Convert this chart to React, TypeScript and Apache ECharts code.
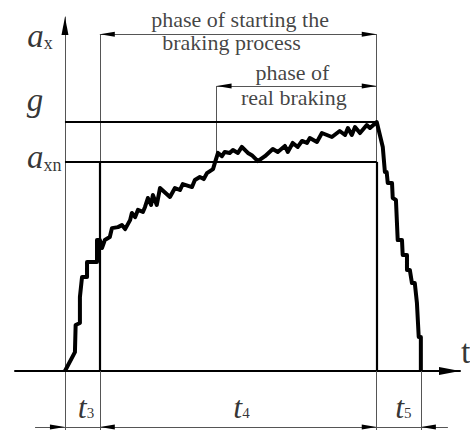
import React, { useEffect, useRef } from 'react';
import * as echarts from 'echarts';

// Phase boundaries on the time axis (arbitrary time units)
const T3_END = 0.98;
const T_REAL = 4.26;
const T4_END = 8.76;
const T5_END = 10.0;

// Acceleration levels (units of g)
const G_LEVEL = 1.0;
const AXN_LEVEL = 0.84;

// Measured deceleration curve a_x(t)
const curveT = [
  0, 0.28, 0.3, 0.42, 0.42, 0.48, 0.62, 0.62, 0.9, 0.9, 0.98, 1.04, 1.12, 1.26, 1.32, 1.49,
  1.6, 1.69, 1.83, 1.88, 1.97, 2.05, 2.19, 2.25, 2.33, 2.42, 2.47, 2.58, 2.67, 2.95, 3.09,
  3.23, 3.31, 3.57, 3.65, 3.79, 3.9, 3.99, 4.16, 4.21, 4.3, 4.41, 4.49, 4.63, 4.72, 4.86,
  4.97, 5.14, 5.25, 5.42, 5.62, 5.84, 5.98, 6.18, 6.26, 6.4, 6.54, 6.66, 6.8, 6.88, 7.08,
  7.22, 7.5, 7.72, 7.87, 7.95, 8.06, 8.15, 8.29, 8.48, 8.57, 8.76, 8.93, 8.99, 9.04, 9.07,
  9.19, 9.21, 9.3, 9.35, 9.47, 9.49, 9.61, 9.61, 9.69, 9.75, 9.83, 9.89, 9.94, 10.0, 10.0,
];
const curveA = [
  0, 0.076, 0.185, 0.193, 0.297, 0.378, 0.378, 0.438, 0.438, 0.526, 0.526, 0.494, 0.526, 0.538,
  0.574, 0.578, 0.586, 0.57, 0.606, 0.635, 0.618, 0.647, 0.639, 0.659, 0.695, 0.667, 0.707,
  0.667, 0.735, 0.699, 0.735, 0.727, 0.751, 0.739, 0.767, 0.779, 0.771, 0.795, 0.811, 0.835,
  0.876, 0.863, 0.88, 0.876, 0.888, 0.876, 0.9, 0.876, 0.867, 0.843, 0.863, 0.892, 0.88, 0.904,
  0.88, 0.916, 0.9, 0.924, 0.916, 0.936, 0.92, 0.956, 0.94, 0.964, 0.948, 0.976, 0.948, 0.98,
  0.956, 0.988, 0.976, 1.0, 0.9, 0.799, 0.799, 0.755, 0.755, 0.695, 0.687, 0.526, 0.526, 0.466,
  0.466, 0.406, 0.406, 0.353, 0.353, 0.273, 0.137, 0.137, 0,
];

// Dimension / annotation lines (data coordinates)
const DIM_TOP = 1.353;
const DIM_REAL = 1.145;
const REAL_FOOT = 0.867;
const DIM_BOTTOM = -0.225;
const DIM_LEFT = -0.84;
const DIM_RIGHT = 10.76;

// Axis ranges
const X_MIN = -1.404;
const X_MAX = 11.1;
const Y_MIN = -0.237;
const Y_MAX = 1.422;

// Arrow tips: [t, a, direction (0 right, 1 left, 2 up), axis arrow flag]
const arrowTips = [
  [X_MAX, 0, 0, 1],
  [0, Y_MAX, 2, 1],
  [T3_END, DIM_TOP, 1, 0],
  [T4_END, DIM_TOP, 0, 0],
  [T_REAL, DIM_REAL, 1, 0],
  [T4_END, DIM_REAL, 0, 0],
  [0, DIM_BOTTOM, 0, 0],
  [T3_END, DIM_BOTTOM, 1, 0],
  [T4_END, DIM_BOTTOM, 0, 0],
  [T5_END, DIM_BOTTOM, 1, 0],
];

// Texts
const annotationTexts = [
  'phase of starting the',
  'braking process',
  'phase of',
  'real braking',
  '{m|a}{s|x}',
  '{m|g}',
  '{m|a}{s|xn}',
  '{t|t}{n|3}',
  '{t|t}{n|4}',
  '{t|t}{n|5}',
  '{u|t}',
];
const annotationT = [4.92, 4.68, 6.39, 6.43, -0.7, -0.843, -0.584, 0.59, 4.96, 9.51, 11.26];
const annotationA = [1.412, 1.319, 1.198, 1.098, 1.346, 1.088, 0.859, -0.145, -0.145, -0.145, 0.078];

const SERIF = 'Liberation Serif';

export default function App() {
  const ref = useRef<HTMLDivElement>(null);

  useEffect(() => {
    if (!ref.current) return;
    const chart = echarts.init(ref.current, null, { renderer: 'svg' });

    const thick = [
      [[0, G_LEVEL], [T4_END, G_LEVEL]],
      [[0, AXN_LEVEL], [T4_END, AXN_LEVEL]],
      [[T3_END, AXN_LEVEL], [T3_END, 0]],
      [[T4_END, AXN_LEVEL], [T4_END, 0]],
    ];
    const thin = [
      [[T3_END, DIM_TOP], [T3_END, Y_MIN]],
      [[T4_END, DIM_TOP], [T4_END, Y_MIN]],
      [[T_REAL, DIM_REAL], [T_REAL, REAL_FOOT]],
      [[T5_END, 0], [T5_END, Y_MIN]],
      [[T3_END, DIM_TOP], [T4_END, DIM_TOP]],
      [[T_REAL, DIM_REAL], [T4_END, DIM_REAL]],
      [[DIM_LEFT, DIM_BOTTOM], [DIM_RIGHT, DIM_BOTTOM]],
    ];

    const option: any = {
      animation: false,
      grid: { left: 15, right: 10, top: 17, bottom: 0 },
      xAxis: {
        type: 'value',
        min: X_MIN,
        max: X_MAX,
        axisLine: { show: true, onZero: true, lineStyle: { color: '#000', width: 2 } },
        axisTick: { show: false },
        axisLabel: { show: false },
        splitLine: { show: false },
      },
      yAxis: {
        type: 'value',
        min: Y_MIN,
        max: Y_MAX,
        axisLine: { show: true, onZero: true, lineStyle: { color: '#555', width: 1 } },
        axisTick: { show: false },
        axisLabel: { show: false },
        splitLine: { show: false },
      },
      series: [
        {
          type: 'lines',
          coordinateSystem: 'cartesian2d',
          silent: true,
          z: 2,
          lineStyle: { color: '#555', width: 1, opacity: 1, curveness: 0 },
          data: thin.map((c) => ({ coords: c })),
        },
        {
          type: 'lines',
          coordinateSystem: 'cartesian2d',
          silent: true,
          z: 3,
          lineStyle: { color: '#000', width: 2.2, opacity: 1, curveness: 0 },
          data: thick.map((c) => ({ coords: c })),
        },
        {
          type: 'line',
          silent: true,
          z: 4,
          symbol: 'none',
          lineStyle: { color: '#000', width: 4, join: 'round' },
          data: curveT.map((t, i) => [t, curveA[i]]),
        },
        {
          type: 'custom',
          silent: true,
          z: 5,
          clip: false,
          encode: { x: 0, y: 1 },
          data: arrowTips,
          renderItem: (_params: any, api: any) => {
            const p = api.coord([api.value(0), api.value(1)]);
            const dir = api.value(2);
            const axis = api.value(3);
            const L = axis ? (dir === 2 ? 18 : 21) : 15;
            const W = axis ? (dir === 2 ? 3.5 : 4) : 2.5;
            let pts: number[][];
            if (dir === 0) pts = [[p[0], p[1]], [p[0] - L, p[1] - W], [p[0] - L, p[1] + W]];
            else if (dir === 1) pts = [[p[0], p[1]], [p[0] + L, p[1] - W], [p[0] + L, p[1] + W]];
            else pts = [[p[0], p[1]], [p[0] - W, p[1] + L], [p[0] + W, p[1] + L]];
            return { type: 'polygon', shape: { points: pts }, style: { fill: '#000' } };
          },
        },
        {
          type: 'scatter',
          silent: true,
          z: 6,
          clip: false,
          symbolSize: 1,
          itemStyle: { color: 'rgba(0,0,0,0)' },
          data: annotationTexts.map((txt, i) => ({
            value: [annotationT[i], annotationA[i]],
            label: { formatter: txt },
          })),
          label: {
            show: true,
            position: 'inside',
            color: '#111',
            fontFamily: SERIF,
            fontSize: 22,
            rich: {
              m: { fontFamily: SERIF, fontStyle: 'italic', fontSize: 33, color: '#000' },
              s: { fontFamily: SERIF, fontSize: 18, color: '#000', verticalAlign: 'bottom' },
              t: { fontFamily: SERIF, fontStyle: 'italic', fontSize: 32, color: '#000' },
              n: {
                fontFamily: SERIF,
                fontSize: 15,
                color: '#000',
                verticalAlign: 'bottom',
                padding: [0, 0, 3, 0],
              },
              u: { fontFamily: SERIF, fontSize: 34, color: '#000' },
            },
          },
        },
      ],
    };

    chart.setOption(option);
    return () => chart.dispose();
  }, []);

  return (
    <div
      ref={ref}
      style={{ position: 'absolute', left: 0, top: 0, width: 470, height: 430, background: '#fff' }}
    />
  );
}
